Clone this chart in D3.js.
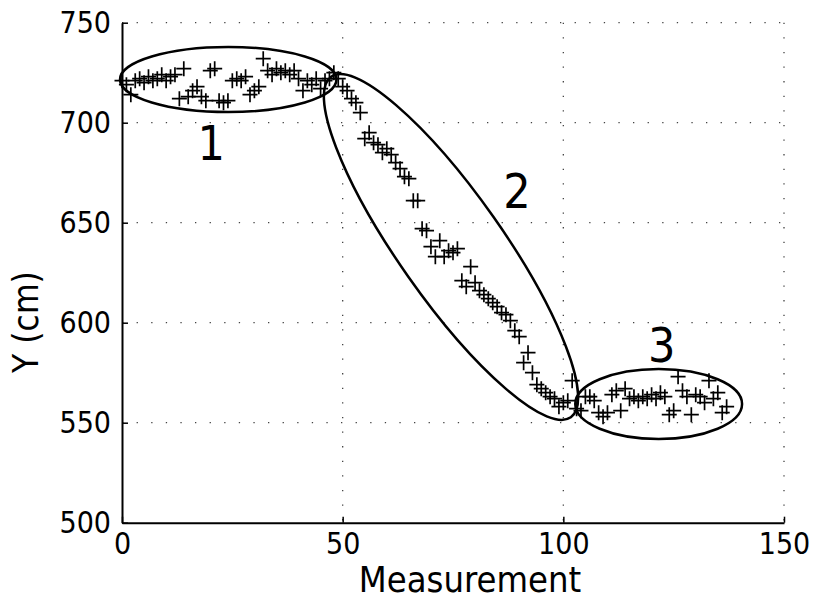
<!DOCTYPE html>
<html>
<head>
<meta charset="utf-8">
<script src="https://cdn.jsdelivr.net/npm/d3@7/dist/d3.min.js"></script>
<style>
  body { margin: 0; background: #fff; }
  text { font-family: "DejaVu Sans Condensed", "DejaVu Sans", sans-serif; fill: #000; }
</style>
</head>
<body>
<div id="chart"></div>
<script>
// measurements are numbered from 0; each cluster lists its Y readings in order
var cluster1Start = 0;
var cluster1Y = [721, 719, 714, 721, 722, 720, 723, 721, 722, 724,
  721, 723, 724, 712, 727, 713, 716, 718, 713, 711,
  726, 727, 711, 710, 711, 721, 722, 721, 723, 714,
  716, 718, 732, 726, 724, 727, 725, 726, 724, 726,
  722, 716, 721, 719, 722, 717, 721];
var cluster2Start = 47;
var cluster2Y = [722, 725, 722, 718, 716, 712, 710, 705, 692, 695,
  690, 689, 685, 687, 684, 680, 677, 673, 672, 661,
  661, 647, 646, 638, 633, 641, 633, 636, 635, 637,
  621, 618, 628, 620, 616, 614, 612, 610, 608, 605,
  604, 601, 596, 593, 580, 585, 575, 569, 567, 565,
  563, 562, 558, 560];
var cluster3Start = 101;
var cluster3Y = [561, 571, 557, 556, 563, 563, 561, 555, 553, 555,
  564, 566, 556, 567, 562, 563, 561, 563, 562, 564,
  562, 565, 563, 554, 556, 573, 566, 563, 554, 564,
  563, 560, 571, 562, 565, 555, 558];

var xTicks = [0, 50, 100, 150];
var yTicks = [500, 550, 600, 650, 700, 750];

// group annotations: ends of each oval's long axis (data units) and label spot
var groupNames = ["1", "2", "3"];
var ovalStart = [[-0.45, 721.6], [47.4, 723.0], [102.7, 559.35]];
var ovalEnd = [[48.6, 721.6], [101.7, 552.7], [140.5, 559.35]];
var labelX = [20.2, 89.5, 122.3];
var labelY = [681.4, 657.4, 580.4];

var margin = { top: 22.7, right: 31, bottom: 84.3, left: 122 };
var svgWidth = 815;
var svgHeight = 607;
var width = svgWidth - margin.left - margin.right;
var height = svgHeight - margin.top - margin.bottom;

var svg = d3.select("#chart")
  .append("svg")
  .attr("width", svgWidth)
  .attr("height", svgHeight);

var plot = svg.append("g")
  .attr("transform", `translate(${margin.left}, ${margin.top})`);

var x = d3.scaleLinear().domain([0, 150]).range([0, width]);
var y = d3.scaleLinear().domain([500, 750]).range([height, 0]);

// build points
var points = [];
[[cluster1Start, cluster1Y], [cluster2Start, cluster2Y], [cluster3Start, cluster3Y]]
  .forEach(function (c) {
    c[1].forEach(function (v, i) { points.push({ m: c[0] + i, y: v }); });
  });

// dotted grid
plot.selectAll(".vgrid")
  .data(xTicks.filter(d => d > 0))
  .enter()
  .append("line")
  .attr("x1", d => x(d)).attr("x2", d => x(d))
  .attr("y1", 0).attr("y2", height)
  .attr("stroke", "#444")
  .attr("stroke-width", 1.3)
  .attr("stroke-dasharray", "1.3,13.3");

plot.selectAll(".hgrid")
  .data(yTicks.filter(d => d > 500))
  .enter()
  .append("line")
  .attr("x1", 0).attr("x2", width)
  .attr("y1", d => y(d)).attr("y2", d => y(d))
  .attr("stroke", "#444")
  .attr("stroke-width", 1.3)
  .attr("stroke-dasharray", "1.3,13.3");

// axes
var bottomAxis = d3.axisBottom(x).tickValues(xTicks).tickSizeInner(-6).tickSizeOuter(0).tickPadding(10);
var leftAxis = d3.axisLeft(y).tickValues(yTicks).tickSizeInner(-6).tickSizeOuter(0).tickPadding(11);

var gx = plot.append("g")
  .attr("transform", `translate(0, ${height})`)
  .call(bottomAxis);
var gy = plot.append("g").call(leftAxis);

[gx, gy].forEach(function (g) {
  g.select(".domain").attr("stroke", "#000").attr("stroke-width", 2);
  g.selectAll(".tick line").attr("stroke", "#000").attr("stroke-width", 1.5);
  g.selectAll(".tick text")
    .attr("font-size", 30)
    .attr("font-family", "'DejaVu Sans Condensed', 'DejaVu Sans', sans-serif")
    .attr("fill", "#000");
});

// plus markers
plot.selectAll(".pt")
  .data(points)
  .enter()
  .append("path")
  .attr("transform", d => `translate(${x(d.m)}, ${y(d.y)})`)
  .attr("d", "M-7.5,0H7.5M0,-7.5V7.5")
  .attr("stroke", "#000")
  .attr("stroke-width", 1.7)
  .attr("fill", "none");

// ovals round the three groups
var ovalHalfWidth = [32.5, 52, 35];
groupNames.forEach(function (name, i) {
  var x1 = x(ovalStart[i][0]), y1 = y(ovalStart[i][1]);
  var x2 = x(ovalEnd[i][0]), y2 = y(ovalEnd[i][1]);
  var cx = (x1 + x2) / 2, cy = (y1 + y2) / 2;
  var ang = Math.atan2(y2 - y1, x2 - x1) * 180 / Math.PI;
  var rx = Math.hypot(x2 - x1, y2 - y1) / 2;
  plot.append("ellipse")
    .attr("transform", `translate(${cx}, ${cy}) rotate(${ang})`)
    .attr("rx", rx)
    .attr("ry", ovalHalfWidth[i])
    .attr("fill", "none")
    .attr("stroke", "#000")
    .attr("stroke-width", 2.5);

  plot.append("text")
    .attr("x", x(labelX[i]))
    .attr("y", y(labelY[i]))
    .attr("text-anchor", "middle")
    .attr("font-size", 48)
    .text(name);
});

// axis titles
svg.append("text")
  .attr("x", 470)
  .attr("y", 592)
  .attr("text-anchor", "middle")
  .attr("font-size", 36)
  .text("Measurement");

svg.append("text")
  .attr("transform", "translate(38, 322) rotate(-90)")
  .attr("text-anchor", "middle")
  .attr("font-size", 35)
  .text("Y (cm)");
</script>
</body>
</html>
